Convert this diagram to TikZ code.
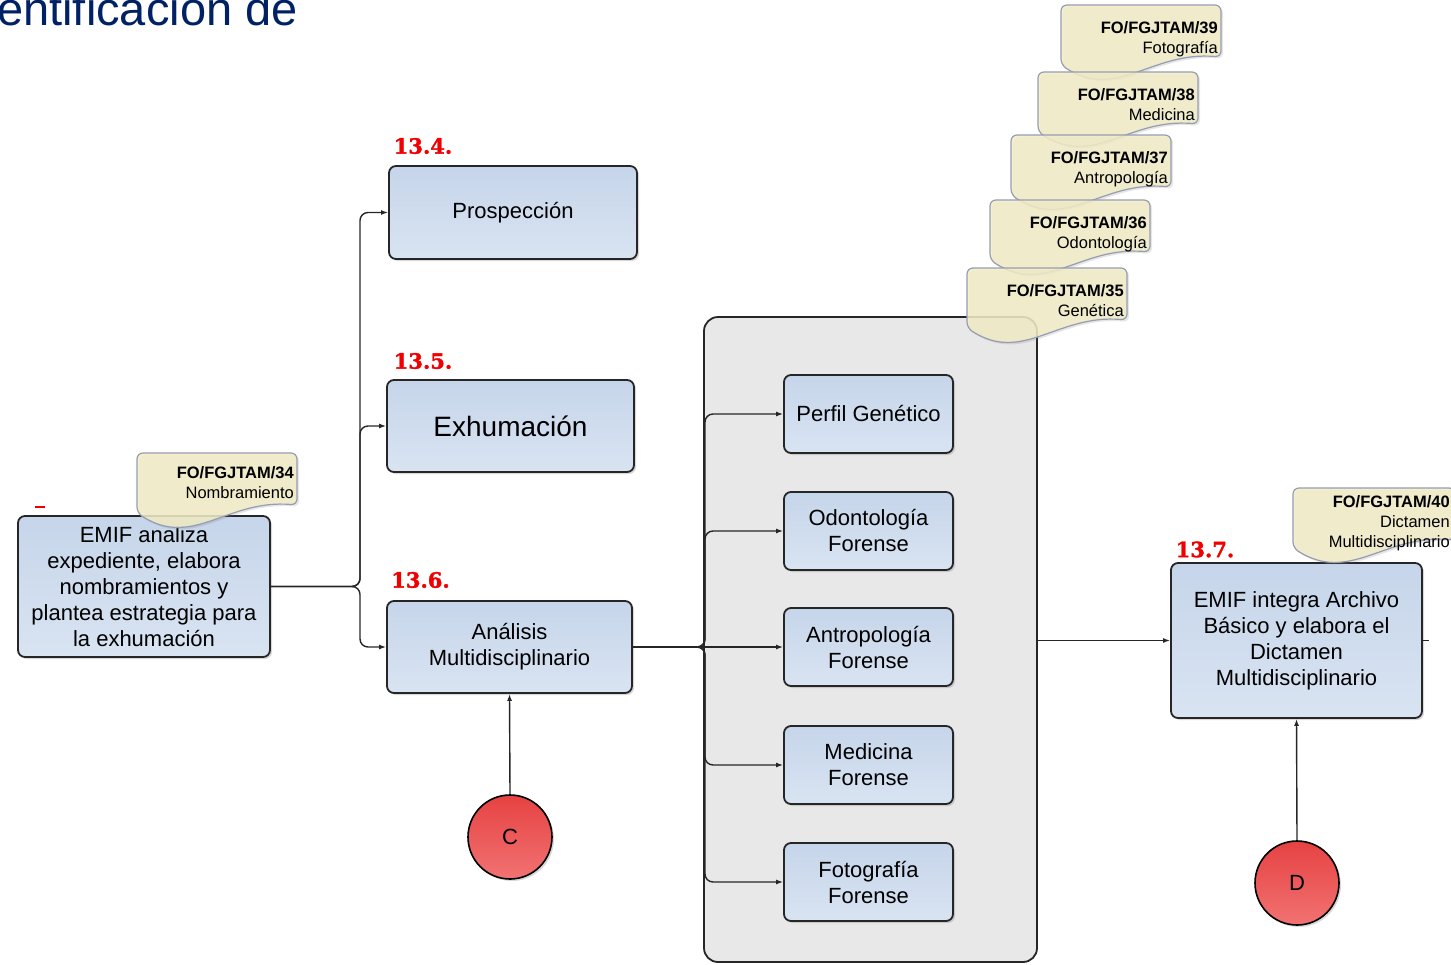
\documentclass[tikz,border=0pt]{standalone}
\usepackage{fontspec}
\setmainfont{Liberation Sans}
\newfontfamily\labfont{DejaVu Serif}[BoldFeatures={FakeBold=1.6}]
\usepackage{tikz}
\usetikzlibrary{arrows.meta,shadows}

\definecolor{titlenavy}{RGB}{0,33,100}
\definecolor{boxtop}{RGB}{198,213,234}
\definecolor{boxbot}{RGB}{217,228,242}
\definecolor{boxline}{RGB}{38,38,38}
\definecolor{docfill}{RGB}{242,236,199}
\definecolor{docline}{RGB}{150,156,178}
\definecolor{contfill}{RGB}{232,232,232}
\definecolor{redtop}{RGB}{230,66,66}
\definecolor{redbot}{RGB}{242,114,114}
\definecolor{labred}{RGB}{240,0,0}

\begin{document}
\begin{tikzpicture}[x=1pt,y=-1pt,
    box/.style={draw=boxline, line width=1.8pt, rounded corners=7pt, top color=boxtop, bottom color=boxbot,
        align=center, inner sep=0pt, font=\fontsize{22}{26}\selectfont,
        drop shadow={shadow xshift=2pt, shadow yshift=-2pt, opacity=0.3}},
    contbox/.style={draw=boxline, line width=1.8pt, rounded corners=14pt, fill=contfill},
    circ/.style={circle, draw=black, line width=1.6pt, top color=redtop, bottom color=redbot,
        minimum size=84pt, inner sep=0pt, font=\fontsize{22}{26}\selectfont,
        drop shadow={shadow xshift=2pt, shadow yshift=-2pt, opacity=0.3}},
    docshape/.style={draw=docline, line width=1.2pt, fill=docfill, fill opacity=0.85, rounded corners=6pt,
        drop shadow={shadow xshift=2pt, shadow yshift=-2pt, opacity=0.2}},
    doctext/.style={align=right, inner sep=0pt, font=\fontsize{16.5}{20}\selectfont},
    lab/.style={text=labred, inner sep=0pt, font=\labfont\bfseries\fontsize{21}{24}\selectfont},
    conn/.style={draw=black!85, line width=1.4pt, rounded corners=8pt},
    arr/.style={conn, -{Latex[length=7pt,width=5pt]}}
]
    \useasboundingbox (0,0) rectangle (1451,964);
    \clip (0,0) rectangle (1451,964);

    \node[anchor=base west, inner sep=0pt, text=titlenavy, font=\fontsize{47}{52}\selectfont] (title) at (-3,25) {entificación de};
    \draw[labred, line width=1.2pt] (35,507) -- (45,507);

    \node[box, minimum width=252pt, minimum height=141pt] (emif) at (144,586.5)
        {EMIF analiza\\expediente, elabora\\nombramientos y\\plantea estrategia para\\la exhumación};
    \node[box, minimum width=248pt, minimum height=93pt] (prosp) at (513,212.5) {Prospección};
    \node[box, minimum width=247pt, minimum height=92pt, font=\fontsize{28}{32}\selectfont] (exhum) at (510.5,426) {Exhumación};
    \node[box, minimum width=245pt, minimum height=92pt] (anal) at (509.5,647) {Análisis\\Multidisciplinario};

    \node[lab] (l134) at (423,146) {13.4.};
    \node[lab] (l135) at (423,361) {13.5.};
    \node[lab] (l136) at (420.5,580) {13.6.};
    \node[lab] (l137) at (1205,549.5) {13.7.};

    \node[contbox, minimum width=333pt, minimum height=645pt] (cont) at (870.5,639.5) {};
    \foreach \n/\y/\t in {gen/414/Perfil Genético, odo/531/Odontología\\Forense, antro/647/Antropología\\Forense,
        med/765/Medicina\\Forense, foto/882/Fotografía\\Forense}{
        \node[box, minimum width=169pt, minimum height=78pt] (\n) at (868.5,\y) {\t};
    }

    \node[box, minimum width=251pt, minimum height=155pt] (integ) at (1296.5,640.5)
        {EMIF integra Archivo\\Básico y elabora el\\Dictamen\\Multidisciplinario};

    \node[circ] (cc) at (510,837) {C};
    \node[circ] (cd) at (1297,883) {D};

    \coordinate (fork1) at (360,586.5);
    \coordinate (fork2) at (705,647);
    \coordinate (stub) at (1429,640.5);
    \foreach \b in {prosp, exhum, anal}{
        \draw[arr] (emif.east) -- (fork1) |- (\b.west);
    }
    \foreach \b in {gen, odo, med, foto}{
        \draw[arr] (anal.east) -- (fork2) |- (\b.west);
    }
    \draw[arr] (anal.east) -- (antro.west);
    \draw[arr] (cont.east |- integ.west) -- (integ.west);
    \draw[conn] (integ.east) -- (stub);
    \draw[arr] (cc.north) -- (anal.south);
    \draw[arr] (cd.north) -- (integ.south);

    \foreach \x/\y/\o/\n/\t in {1061/5/16/39/Fotografía, 1038/72/16/38/Medicina, 1011/135/16/37/Antropología,
        990/200/16/36/Odontología, 967/268/16/35/Genética, 137/453/13/34/Nombramiento}{
        \draw[docshape] (\x,\y+30) -- (\x,\y) -- (\x+160,\y) -- (\x+160,\y+52)
            .. controls (\x+90,\y+46) and (\x+56,\y+96) .. (\x,\y+60) -- cycle;
        \node[doctext, anchor=north east] (fo\n) at (\x+157,\y+\o) {\textbf{FO/FGJTAM/\n}\\\t};
    }
    \draw[docshape] (1293,518) -- (1293,488) -- (1455,488) -- (1455,540)
        .. controls (1385,534) and (1350,584) .. (1293,548) -- cycle;
    \node[doctext, anchor=north east] (fo40) at (1450,495) {\textbf{FO/FGJTAM/40}\\Dictamen\\Multidisciplinario};
\end{tikzpicture}
\end{document}
